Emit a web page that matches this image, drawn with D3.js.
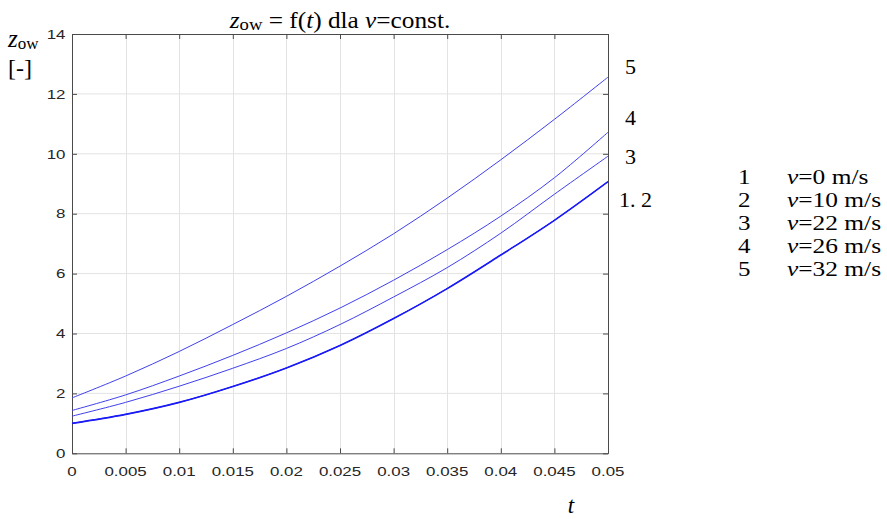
<!DOCTYPE html>
<html>
<head>
<meta charset="utf-8">
<script src="https://d3js.org/d3.v7.min.js"></script>
<style>
  html, body { margin: 0; padding: 0; background: #fff; }
  svg { display: block; }
</style>
</head>
<body>
<div id="chart"></div>
<script>
// Time samples t [s]
const tValues = [0, 0.005, 0.01, 0.015, 0.02, 0.025, 0.03, 0.035, 0.04, 0.045, 0.05];

// z_ow(t) for each constant speed
const zV0  = [1.00, 1.30, 1.70, 2.23, 2.85, 3.60, 4.50, 5.50, 6.62, 7.78, 9.07];
const zV10 = [1.00, 1.30, 1.70, 2.23, 2.85, 3.60, 4.50, 5.50, 6.62, 7.78, 9.07];
const zV22 = [1.24, 1.70, 2.24, 2.84, 3.50, 4.30, 5.22, 6.20, 7.35, 8.65, 9.92];
const zV26 = [1.43, 1.95, 2.58, 3.27, 4.02, 4.85, 5.78, 6.80, 7.92, 9.20, 10.72];
const zV32 = [1.85, 2.58, 3.40, 4.30, 5.24, 6.25, 7.33, 8.52, 9.80, 11.15, 12.56];

const seriesNumbers = ["1", "2", "3", "4", "5"];
const seriesSpeeds = ["0", "10", "22", "26", "32"];

const xTicks = [0, 0.005, 0.01, 0.015, 0.02, 0.025, 0.03, 0.035, 0.04, 0.045, 0.05];
const xTickLabels = ["0", "0.005", "0.01", "0.015", "0.02", "0.025", "0.03", "0.035", "0.04", "0.045", "0.05"];
const yTicks = [0, 2, 4, 6, 8, 10, 12, 14];
const yTickLabels = ["0", "2", "4", "6", "8", "10", "12", "14"];

// Curve end labels: series grouping shown at the right edge
const endLabels = ["1. 2", "3", "4", "5"];
const endLabelValues = [8.45, 9.9, 11.2, 12.9];

const W = 887, H = 519;
const plot = { left: 72, right: 608, top: 34, bottom: 453.3 };

const svg = d3.select("#chart").append("svg")
  .attr("width", W).attr("height", H);

const x = d3.scaleLinear().domain([0, 0.05]).range([plot.left, plot.right]);
const y = d3.scaleLinear().domain([0, 14]).range([plot.bottom, plot.top]);

const serif = "'Liberation Serif', 'Times New Roman', serif";
const sans = "'Liberation Sans', Arial, Helvetica, sans-serif";
const TEXT_SX = 1.3; // horizontal widening of tick lettering

// text helper: anchor point + horizontal stretch
function label(x0, y0, size, family, anchor, sx) {
  return svg.append("text")
    .attr("transform", `translate(${x0},${y0}) scale(${sx},1)`)
    .attr("font-size", size)
    .attr("font-family", family)
    .attr("text-anchor", anchor)
    .attr("fill", "#000");
}

// grid
const grid = svg.append("g").attr("stroke", "#e3e3e3").attr("stroke-width", 1);
grid.selectAll("line.gx").data(xTicks.slice(1, -1)).join("line")
  .attr("x1", d => Math.round(x(d)) + 0.5).attr("x2", d => Math.round(x(d)) + 0.5)
  .attr("y1", plot.top).attr("y2", plot.bottom);
grid.selectAll("line.gy").data(yTicks.slice(1, -1)).join("line")
  .attr("x1", plot.left).attr("x2", plot.right)
  .attr("y1", d => y(d)).attr("y2", d => y(d));

// axes (ticks pointing inward on all four sides)
const axisColor = "#4a4a4a";
function styleAxis(g) {
  g.selectAll("text").remove();
  g.select(".domain").attr("stroke", axisColor);
  g.selectAll(".tick line").attr("stroke", axisColor);
}
svg.append("g").attr("transform", `translate(0,${plot.bottom})`)
  .call(d3.axisBottom(x).tickValues(xTicks).tickSizeInner(-5).tickSizeOuter(0)).call(styleAxis);
svg.append("g").attr("transform", `translate(0,${plot.top})`)
  .call(d3.axisTop(x).tickValues(xTicks).tickSizeInner(-5).tickSizeOuter(0)).call(styleAxis);
svg.append("g").attr("transform", `translate(${plot.left},0)`)
  .call(d3.axisLeft(y).tickValues(yTicks).tickSizeInner(-5).tickSizeOuter(0)).call(styleAxis);
svg.append("g").attr("transform", `translate(${plot.right},0)`)
  .call(d3.axisRight(y).tickValues(yTicks).tickSizeInner(-5).tickSizeOuter(0)).call(styleAxis);

// tick labels
xTicks.forEach((t, i) => {
  label(x(t), 475.5, 13, sans, "middle", TEXT_SX).attr("fill", "#262626").text(xTickLabels[i]);
});
yTicks.forEach((v, i) => {
  label(65.5, y(v) + 4.7, 13, sans, "end", TEXT_SX).attr("fill", "#262626").text(yTickLabels[i]);
});

// curves
const line = d3.line()
  .x((d, i) => x(tValues[i]))
  .y(d => y(d))
  .curve(d3.curveCatmullRom.alpha(0.5));

const series = [
  { values: zV0,  width: 1.0, color: "#0000ff" },
  { values: zV10, width: 1.6, color: "#1a1af5" },
  { values: zV22, width: 1.0, color: "#4040ee" },
  { values: zV26, width: 1.0, color: "#4040ee" },
  { values: zV32, width: 1.0, color: "#4040ee" }
];
svg.append("g").attr("fill", "none").selectAll("path").data(series).join("path")
  .attr("d", d => line(d.values))
  .attr("stroke", d => d.color)
  .attr("stroke-width", d => d.width);

// title
const title = label(340, 28, 23, serif, "middle", 1.1);
title.append("tspan").attr("font-style", "italic").text("z");
title.append("tspan").attr("font-size", 17).attr("dy", 2).text("ow");
title.append("tspan").attr("dy", -2).text(" = f(");
title.append("tspan").attr("font-style", "italic").text("t");
title.append("tspan").text(") dla ");
title.append("tspan").attr("font-style", "italic").text("v");
title.append("tspan").text("=const.");

// y-axis label
const yl = label(8, 47, 25, serif, "start", 1.0);
yl.append("tspan").attr("font-style", "italic").text("z");
yl.append("tspan").attr("font-size", 17).attr("dy", 2).text("ow");
label(8, 76, 24, serif, "start", 1.0).text("[-]");

// x-axis label
label(571, 513, 23, serif, "middle", 1.0).attr("font-style", "italic").text("t");

// end-of-curve labels
endLabels.forEach((s, i) => {
  label(s.length > 1 ? 619 : 625, y(endLabelValues[i]) + 7, 22, serif, "start", 1.0).text(s);
});

// legend
seriesNumbers.forEach((n, i) => {
  const yy = 184 + i * 23;
  label(738, yy, 20, serif, "start", 1.25).text(n);
  const t = label(787, yy, 20, serif, "start", 1.27);
  t.append("tspan").attr("font-style", "italic").text("v");
  t.append("tspan").text(`=${seriesSpeeds[i]} m/s`);
});
</script>
</body>
</html>
